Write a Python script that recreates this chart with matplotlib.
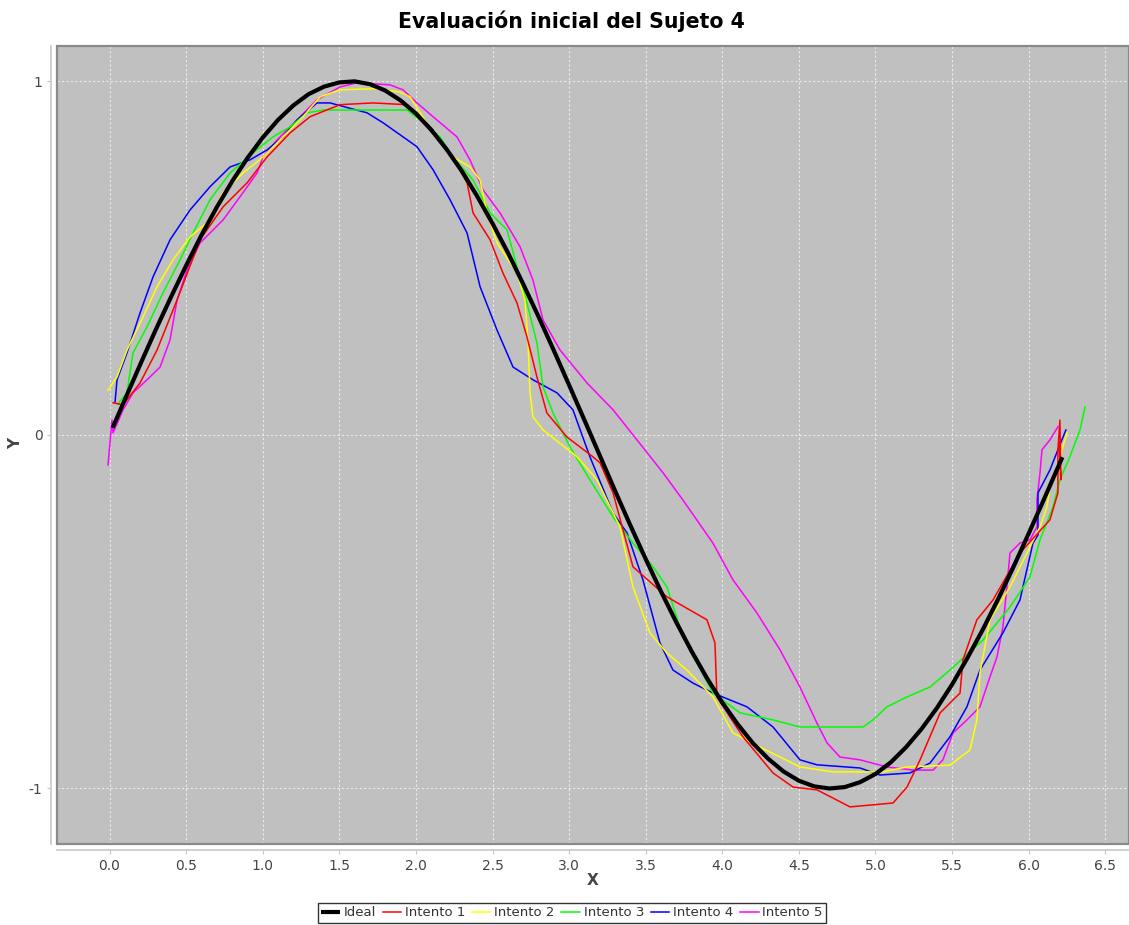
import matplotlib
matplotlib.use("Agg")
import matplotlib.pyplot as plt
from matplotlib.patches import Rectangle

title = "Evaluación inicial del Sujeto 4"
x_ticks = [0.0, 0.5, 1.0, 1.5, 2.0, 2.5, 3.0, 3.5, 4.0, 4.5, 5.0, 5.5, 6.0, 6.5]
y_ticks = [-1, 0, 1]

# Ideal (sine)
ideal_x = [0.02, 0.1, 0.2, 0.3, 0.4, 0.5, 0.6, 0.7, 0.8, 0.9, 1.0, 1.1, 1.2, 1.3,
           1.4, 1.5, 1.6, 1.7, 1.8, 1.9, 2.0, 2.1, 2.2, 2.3, 2.4, 2.5, 2.6, 2.7,
           2.8, 2.9, 3.0, 3.1, 3.2, 3.3, 3.4, 3.5, 3.6, 3.7, 3.8, 3.9, 4.0, 4.1,
           4.2, 4.3, 4.4, 4.5, 4.6, 4.7, 4.8, 4.9, 5.0, 5.1, 5.2, 5.3, 5.4, 5.5,
           5.6, 5.7, 5.8, 5.9, 6.0, 6.1, 6.2, 6.22]
ideal_y = [0.020, 0.100, 0.199, 0.296, 0.389, 0.479, 0.565, 0.644, 0.717, 0.783,
           0.841, 0.891, 0.932, 0.964, 0.985, 0.997, 1.000, 0.992, 0.974, 0.946,
           0.909, 0.863, 0.808, 0.746, 0.675, 0.598, 0.516, 0.427, 0.335, 0.239,
           0.141, 0.042, -0.058, -0.158, -0.256, -0.351, -0.443, -0.530, -0.612,
           -0.688, -0.757, -0.818, -0.872, -0.916, -0.952, -0.978, -0.994, -1.000,
           -0.996, -0.982, -0.959, -0.926, -0.883, -0.832, -0.773, -0.706, -0.631,
           -0.551, -0.465, -0.374, -0.279, -0.182, -0.083, -0.063]

int1_x = [0.023, 0.088, 0.199, 0.310, 0.441, 0.591, 0.741, 0.898, 1.028, 1.178,
          1.309, 1.504, 1.720, 1.942, 2.072, 2.222, 2.334, 2.373, 2.484, 2.568,
          2.660, 2.725, 2.790, 2.855, 2.986, 3.156, 3.202, 3.287, 3.417, 3.639,
          3.900, 3.952, 3.965, 4.135, 4.331, 4.462, 4.619, 4.834, 5.115, 5.206,
          5.291, 5.422, 5.552, 5.571, 5.662, 5.767, 5.943, 6.139, 6.191, 6.191,
          6.204, 6.210, 6.200]
int1_y = [0.091, 0.085, 0.147, 0.240, 0.382, 0.552, 0.645, 0.713, 0.786, 0.854,
          0.900, 0.934, 0.939, 0.934, 0.871, 0.798, 0.713, 0.628, 0.552, 0.458,
          0.373, 0.277, 0.164, 0.062, -0.006, -0.062, -0.079, -0.164, -0.373,
          -0.458, -0.523, -0.588, -0.741, -0.854, -0.956, -0.996, -1.004, -1.052,
          -1.041, -0.996, -0.919, -0.786, -0.730, -0.636, -0.523, -0.467, -0.334,
          -0.240, -0.164, -0.042, 0.042, -0.127, -0.020]

int2_x = [-0.010, 0.049, 0.114, 0.219, 0.310, 0.414, 0.525, 0.636, 0.741, 0.871,
          1.002, 1.132, 1.263, 1.374, 1.504, 1.720, 1.896, 1.962, 2.027, 2.112,
          2.242, 2.353, 2.419, 2.464, 2.529, 2.660, 2.712, 2.732, 2.745, 2.764,
          2.830, 3.052, 3.182, 3.332, 3.417, 3.528, 3.639, 3.769, 3.939, 4.070,
          4.246, 4.507, 4.723, 5.049, 5.206, 5.486, 5.617, 5.662, 5.682, 5.747,
          5.878, 6.074, 6.119, 6.139, 6.185, 6.250]
int2_y = [0.127, 0.164, 0.240, 0.334, 0.419, 0.495, 0.560, 0.600, 0.685, 0.741,
          0.786, 0.843, 0.900, 0.956, 0.976, 0.979, 0.970, 0.956, 0.911, 0.854,
          0.786, 0.758, 0.721, 0.628, 0.543, 0.458, 0.382, 0.260, 0.119, 0.051,
          0.014, -0.062, -0.127, -0.260, -0.430, -0.560, -0.617, -0.665, -0.741,
          -0.843, -0.883, -0.939, -0.953, -0.953, -0.939, -0.934, -0.891, -0.806,
          -0.673, -0.523, -0.430, -0.260, -0.204, -0.147, -0.091, 0.006]

int3_x = [0.055, 0.114, 0.153, 0.245, 0.349, 0.460, 0.545, 0.656, 0.787, 0.937,
          1.067, 1.178, 1.289, 1.394, 1.616, 1.942, 2.027, 2.157, 2.242, 2.373,
          2.484, 2.595, 2.660, 2.725, 2.790, 2.830, 2.895, 3.006, 3.136, 3.287,
          3.417, 3.548, 3.639, 3.743, 3.939, 4.116, 4.331, 4.507, 4.919, 4.984,
          5.075, 5.206, 5.356, 5.486, 5.702, 5.878, 6.008, 6.074, 6.159, 6.204,
          6.269, 6.335, 6.368]
int3_y = [0.088, 0.119, 0.232, 0.306, 0.402, 0.495, 0.571, 0.665, 0.741, 0.798,
          0.843, 0.871, 0.911, 0.919, 0.919, 0.919, 0.891, 0.843, 0.786, 0.721,
          0.628, 0.580, 0.475, 0.373, 0.260, 0.136, 0.062, -0.034, -0.127, -0.232,
          -0.306, -0.373, -0.430, -0.571, -0.730, -0.786, -0.806, -0.826, -0.826,
          -0.806, -0.769, -0.741, -0.713, -0.665, -0.580, -0.487, -0.402, -0.297,
          -0.204, -0.127, -0.062, 0.014, 0.079]

int4_x = [0.036, 0.049, 0.114, 0.199, 0.284, 0.395, 0.525, 0.656, 0.787, 0.917,
          1.028, 1.132, 1.224, 1.354, 1.439, 1.681, 1.785, 1.916, 2.007, 2.112,
          2.223, 2.334, 2.419, 2.529, 2.634, 2.764, 2.921, 3.025, 3.136, 3.287,
          3.378, 3.482, 3.593, 3.678, 3.809, 3.939, 4.161, 4.331, 4.507, 4.618,
          4.899, 5.030, 5.226, 5.356, 5.486, 5.597, 5.682, 5.832, 5.943, 6.028,
          6.061, 6.061, 6.139, 6.191, 6.243]
int4_y = [0.093, 0.156, 0.232, 0.345, 0.447, 0.552, 0.636, 0.702, 0.758, 0.778,
          0.806, 0.843, 0.891, 0.939, 0.939, 0.911, 0.883, 0.843, 0.815, 0.750,
          0.665, 0.571, 0.419, 0.297, 0.192, 0.156, 0.119, 0.071, -0.062, -0.221,
          -0.277, -0.410, -0.588, -0.665, -0.702, -0.730, -0.769, -0.826, -0.919,
          -0.933, -0.942, -0.962, -0.956, -0.928, -0.854, -0.769, -0.665, -0.560,
          -0.467, -0.306, -0.283, -0.164, -0.099, -0.042, 0.014]

int5_x = [-0.010, 0.016, 0.023, 0.088, 0.153, 0.245, 0.330, 0.395, 0.441, 0.506,
          0.591, 0.741, 0.871, 0.963, 1.002, 1.093, 1.224, 1.354, 1.504, 1.615,
          1.831, 1.916, 2.007, 2.112, 2.268, 2.353, 2.438, 2.549, 2.680, 2.764,
          2.830, 2.941, 3.117, 3.287, 3.443, 3.613, 3.743, 3.939, 4.070, 4.227,
          4.377, 4.507, 4.618, 4.684, 4.768, 4.899, 5.075, 5.245, 5.376, 5.440,
          5.506, 5.597, 5.682, 5.747, 5.793, 5.832, 5.858, 5.878, 5.943, 6.008,
          6.054, 6.054, 6.074, 6.087, 6.139, 6.191]
int5_y = [-0.085, 0.042, 0.006, 0.071, 0.119, 0.156, 0.192, 0.269, 0.382, 0.467,
          0.543, 0.608, 0.685, 0.741, 0.786, 0.834, 0.891, 0.948, 0.984, 0.996,
          0.990, 0.976, 0.939, 0.900, 0.843, 0.778, 0.693, 0.628, 0.532, 0.438,
          0.325, 0.240, 0.147, 0.071, -0.014, -0.107, -0.184, -0.306, -0.410,
          -0.504, -0.608, -0.713, -0.815, -0.871, -0.911, -0.919, -0.939, -0.948,
          -0.948, -0.919, -0.843, -0.806, -0.769, -0.685, -0.628, -0.543, -0.430,
          -0.334, -0.306, -0.297, -0.260, -0.184, -0.107, -0.042, -0.014, 0.023]

series = [
    ("Intento 1", int1_x, int1_y, "#ff0000"),
    ("Intento 2", int2_x, int2_y, "#ffff00"),
    ("Intento 3", int3_x, int3_y, "#00ff00"),
    ("Intento 4", int4_x, int4_y, "#0000ff"),
    ("Intento 5", int5_x, int5_y, "#ff00ff"),
]

fig = plt.figure(figsize=(11.29, 9.25), dpi=100)
ax = fig.add_axes([57 / 1129, 1 - 844 / 925, 1 - 57 / 1129, (844 - 46) / 925])
ax.set_facecolor("#c0c0c0")

lines = []
l, = ax.plot(ideal_x, ideal_y, color="black", lw=3.0, label="Ideal", zorder=10,
             solid_capstyle="butt", solid_joinstyle="round")
lines.append(l)
for i, (name, xs, ys, col) in enumerate(series):
    l, = ax.plot(xs, ys, color=col, lw=1.1, label=name, zorder=9 - i,
                 solid_joinstyle="round")
    lines.append(l)

ax.set_xlim(-0.343, 6.655)
ax.set_ylim(-1.157, 1.100)
ax.set_xticks(x_ticks)
ax.set_xticklabels([f"{v:.1f}" for v in x_ticks])
ax.set_yticks(y_ticks)
ax.set_yticklabels([str(v) for v in y_ticks])
ax.grid(True, color="#ebebeb", lw=0.8, linestyle=(0, (2, 2)))
ax.set_axisbelow(True)

for s in ["top", "right"]:
    ax.spines[s].set_visible(False)
for s in ["left", "bottom"]:
    ax.spines[s].set_position(("outward", 4))
    ax.spines[s].set_color("#c8c8c8")
    ax.spines[s].set_linewidth(1.2)
ax.add_patch(Rectangle((0, 0), 1, 1, transform=ax.transAxes, fill=False,
                       edgecolor="#8a8a8a", lw=1.6, zorder=20, clip_on=False))

ax.tick_params(colors="#c8c8c8", labelcolor="#444444", labelsize=10, length=3)

ax.set_xlabel("X", fontsize=11, fontweight="bold", color="#444444", labelpad=0)
ax.set_ylabel("Y", fontsize=11, fontweight="bold", color="#444444")
ax.yaxis.set_label_coords(-0.0315, 0.502)

fig.text(571 / 1129, 1 - 21 / 925, title, ha="center", va="center",
         fontsize=14.8, fontweight="bold")

leg = fig.legend(handles=lines, loc="upper center", ncol=6,
                 bbox_to_anchor=(572 / 1129, 1 - 903 / 925), fontsize=9.5,
                 frameon=True, fancybox=False, edgecolor="black",
                 handlelength=1.4, handletextpad=0.3, columnspacing=0.5,
                 borderpad=0.25, borderaxespad=0)
leg.get_frame().set_linewidth(1.0)
for t in leg.get_texts():
    t.set_color("#333333")

fig.savefig("out.png", dpi=100)
